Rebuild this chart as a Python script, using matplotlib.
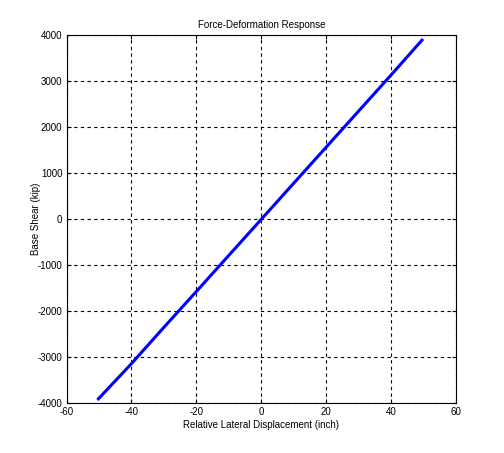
import matplotlib.pyplot as plt
import numpy as np

# Data: force-deformation response
displacement = [-50.5, -40, -30, -20, -10, 0, 10, 20, 30, 40, 49.8]
base_shear = [-3930, -3140, -2350, -1570, -785, 0, 785, 1570, 2355, 3140, 3920]

plt.rcParams["font.family"] = ["Liberation Sans", "DejaVu Sans"]
plt.rcParams["axes.unicode_minus"] = False

fig = plt.figure(figsize=(5.04, 4.53), dpi=100, facecolor="white")
ax = fig.add_axes([0.132, 0.110, 0.773, 0.812])

ax.plot(displacement, base_shear, color="#0000FF", linewidth=2.2, solid_capstyle="butt")

ax.set_xlim(-60, 60)
ax.set_ylim(-4000, 4000)
ax.set_xticks(np.arange(-60, 61, 20))
ax.set_yticks(np.arange(-4000, 4001, 1000))

ax.grid(True, color="black", linestyle=(0, (3, 3)), linewidth=0.8)
ax.tick_params(direction="in", length=3, width=0.8, labelsize=7, top=True, right=True,
               labeltop=False, labelright=False, pad=3)
for spine in ax.spines.values():
    spine.set_linewidth(0.8)

ax.set_title("Force-Deformation Response", fontsize=7, pad=5)
ax.set_xlabel("Relative Lateral Displacement (inch)", fontsize=7, labelpad=2)
ax.set_ylabel("Base Shear (kip)", fontsize=7)
ax.yaxis.set_label_coords(-0.066, 0.5)

plt.savefig("out.png", dpi=100, facecolor="white")
